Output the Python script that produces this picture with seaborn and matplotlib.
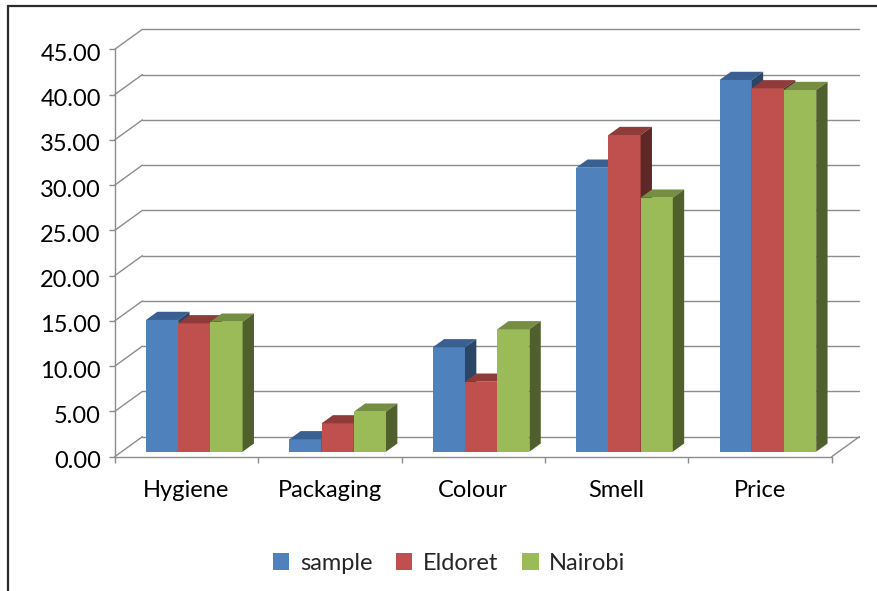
import matplotlib
matplotlib.use("Agg")
import matplotlib.pyplot as plt
from matplotlib.patches import Polygon, Patch
from matplotlib.lines import Line2D
from matplotlib.ticker import FormatStrFormatter, FixedLocator
from matplotlib.transforms import ScaledTranslation
import seaborn as sns
import pandas as pd

categories = ["Hygiene", "Packaging", "Colour", "Smell", "Price"]
series = ["sample", "Eldoret", "Nairobi"]
sample = [14.55, 1.37, 11.53, 31.37, 41.06]
eldoret = [14.18, 3.13, 7.73, 34.98, 40.14]
nairobi = [14.36, 4.42, 13.52, 28.06, 39.95]
y_ticks = [0, 5, 10, 15, 20, 25, 30, 35, 40, 45]

front_colors = ["#4F81BD", "#C0504D", "#9BBB59"]
top_colors = ["#3A6091", "#8E3B39", "#758E43"]
side_colors = ["#2A4566", "#5F2725", "#4F602C"]

sns.set_theme(style="white")
plt.rcParams["font.family"] = ["Lato", "DejaVu Sans"]

df = pd.DataFrame({
    "category": categories * 3,
    "series": [s for s in series for _ in categories],
    "value": sample + eldoret + nairobi,
})

W, H = 877, 591
fig = plt.figure(figsize=(W / 100, H / 100), dpi=100)

# front plane geometry (pixels)
x0_px, y0_px = 114.7, 456.7
kx, ky = 143.4, 9.053
x_right = -0.5 + (860.4 - x0_px) / kx
y_top = 47.3
ax = fig.add_axes([x0_px / W, (H - y0_px) / H,
                   (860.4 - x0_px) / W, (y_top * ky) / H])

# oblique depth of the plot box and of the columns
DX, DY = 27.7 / kx, 20 / ky
f0, f1 = 0.25, 0.66
bdx, bdy = (f1 - f0) * DX, (f1 - f0) * DY
grid_c = "#8C8C8C"

# back wall, side wall and floor lines
for v in y_ticks:
    ax.plot([-0.5 + DX, 4.5 + DX], [v + DY, v + DY], color=grid_c, lw=1.0,
            zorder=1, clip_on=False)
    ax.plot([-0.5, -0.5 + DX], [v, v + DY], color=grid_c, lw=1.0,
            zorder=1, clip_on=False)
ax.plot([4.5, 4.5 + DX], [0, DY], color=grid_c, lw=1.0, zorder=1, clip_on=False)

sns.barplot(data=df, x="category", y="value", hue="series",
            order=categories, hue_order=series, palette=front_colors,
            saturation=1, width=0.674, dodge=True, legend=False,
            errorbar=None, edgecolor="none", linewidth=0, ax=ax)

# give each column a top and a right side face
bars = sorted(ax.patches, key=lambda p: p.get_x())
sx, sy = 0.055, f0 * DY
for i, p in enumerate(bars):
    p.set_x(p.get_x() + sx)
    p.set_y(sy)
    p.set_zorder(3 + i)
    x, w, h = p.get_x(), p.get_width(), p.get_height()
    hexcol = matplotlib.colors.to_hex(p.get_facecolor()).upper()
    col = front_colors.index(hexcol) if hexcol in front_colors else 0
    yt = sy + h
    top = Polygon([(x, yt), (x + w, yt), (x + w + bdx, yt + bdy), (x + bdx, yt + bdy)],
                  closed=True, facecolor=top_colors[col], edgecolor="none",
                  zorder=3 + i + 0.1)
    side = Polygon([(x + w, sy), (x + w + bdx, sy + bdy), (x + w + bdx, yt + bdy), (x + w, yt)],
                   closed=True, facecolor=side_colors[col], edgecolor="none",
                   zorder=3 + i + 0.2)
    ax.add_patch(top)
    ax.add_patch(side)

ax.set_xlim(-0.5, x_right)
ax.set_ylim(0, y_top)
ax.set_xlabel("")
ax.set_ylabel("")

for s in ["top", "right"]:
    ax.spines[s].set_visible(False)
ax.spines["left"].set_bounds(0, 45)
ax.spines["bottom"].set_bounds(-0.5, 4.5)
for s in ["left", "bottom"]:
    ax.spines[s].set_color(grid_c)
    ax.spines[s].set_linewidth(1.0)
    ax.spines[s].set_zorder(2)

ax.set_yticks(y_ticks)
ax.yaxis.set_major_formatter(FormatStrFormatter("%.2f"))
ax.tick_params(axis="y", which="major", direction="out", length=4, width=1,
               color=grid_c, labelsize=17, labelcolor="#000000", pad=6, left=True)
shift = ScaledTranslation(0, -3 / 100, fig.dpi_scale_trans)
for lbl in ax.get_yticklabels():
    lbl.set_transform(lbl.get_transform() + shift)
ax.set_xticks(range(len(categories)))
ax.set_xticklabels(categories)
ax.xaxis.set_minor_locator(FixedLocator([-0.5, 0.5, 1.5, 2.5, 3.5, 4.5]))
ax.tick_params(axis="x", which="major", length=0, labelsize=17,
               labelcolor="#000000", pad=17, bottom=True)
ax.tick_params(axis="x", which="minor", direction="out", length=4, width=1,
               color=grid_c, bottom=True)
ax.grid(False)

handles = [Patch(facecolor=c, edgecolor="none") for c in front_colors]
fig.legend(handles, series, loc="center", bbox_to_anchor=(449 / W, 1 - 563 / H),
           ncol=3, frameon=False, fontsize=17, handlelength=0.7, handleheight=0.7,
           handletextpad=0.45, columnspacing=1.0)

# chart frame
fig.add_artist(Line2D([8 / W, 1.0], [1 - 5.5 / H, 1 - 5.5 / H],
                      transform=fig.transFigure, color="#2B2B2B", lw=1.6))
fig.add_artist(Line2D([8 / W, 8 / W], [0, 1 - 5.5 / H],
                      transform=fig.transFigure, color="#2B2B2B", lw=1.6))

fig.savefig("out.png", dpi=100)
